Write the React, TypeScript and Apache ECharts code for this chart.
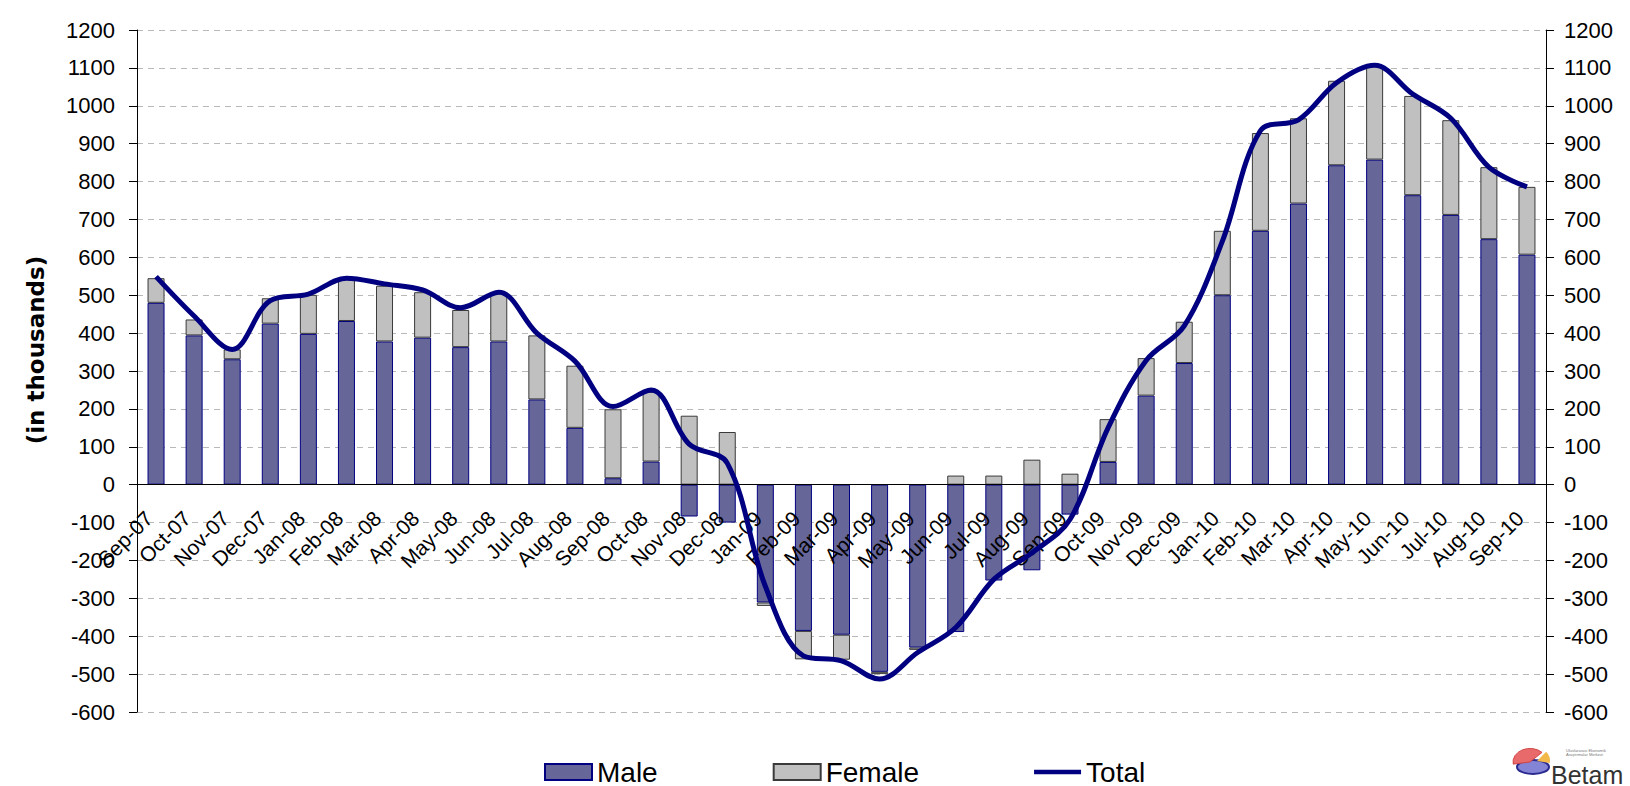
import React, { useEffect, useRef } from 'react';
import * as echarts from 'echarts';

const categories = [
  'Sep-07', 'Oct-07', 'Nov-07', 'Dec-07', 'Jan-08', 'Feb-08', 'Mar-08', 'Apr-08', 'May-08', 'Jun-08',
  'Jul-08', 'Aug-08', 'Sep-08', 'Oct-08', 'Nov-08', 'Dec-08', 'Jan-09', 'Feb-09', 'Mar-09', 'Apr-09',
  'May-09', 'Jun-09', 'Jul-09', 'Aug-09', 'Sep-09', 'Oct-09', 'Nov-09', 'Dec-09', 'Jan-10', 'Feb-10',
  'Mar-10', 'Apr-10', 'May-10', 'Jun-10', 'Jul-10', 'Aug-10', 'Sep-10',
];

const male = [
  480, 394, 331, 425, 398, 432, 378, 388, 363, 378,
  225, 150, 17, 61, -84, -100, -311, -386, -396, -494,
  -430, -389, -253, -226, -79, 60, 235, 321, 500, 670,
  742, 843, 858, 764, 712, 648, 607,
];

const female = [
  65, 42, 26, 67, 103, 111, 147, 120, 98, 130,
  169, 164, 182, 184, 182, 139, -9, -75, -66, -6,
  -6, 24, 24, 66, 29, 113, 99, 109, 170, 258,
  225, 223, 247, 262, 250, 190, 179,
];

const total = [
  549, 445, 357, 486, 503, 545, 530, 514, 467, 508,
  400, 326, 206, 250, 107, 57, -268, -452, -465, -513,
  -443, -377, -250, -180, -92, 150, 328, 419, 642, 934,
  963, 1061, 1107, 1031, 967, 838, 786,
];

const yMin = -600;
const yMax = 1200;
const yStep = 100;

const FONT = '"Liberation Sans", Arial, sans-serif';

const GRID_TOP = 30;
const GRID_BOTTOM = 74;
const HEIGHT = 786;

export default function App() {
  const ref = useRef<HTMLDivElement>(null);

  useEffect(() => {
    if (!ref.current) return;
    const chart = echarts.init(ref.current, null, { renderer: 'svg' });
    const plotH = HEIGHT - GRID_TOP - GRID_BOTTOM;
    // move the category axis (line + labels) up to the value-axis zero
    const zeroOffset = -((0 - yMin) / (yMax - yMin)) * plotH;
    const yAxisBase = {
      type: 'value',
      min: yMin,
      max: yMax,
      interval: yStep,
      axisLine: { show: true, onZero: false, lineStyle: { color: '#000', width: 1 } },
      axisTick: { show: true, inside: false, length: 8, lineStyle: { color: '#000', width: 1 } },
      axisLabel: {
        fontSize: 22,
        color: '#000',
        fontFamily: FONT,
        formatter: (v: number) => String(v),
      },
    };
    chart.setOption({
      animation: false,
      backgroundColor: '#fff',
      grid: { left: 137, right: 84, top: GRID_TOP, bottom: GRID_BOTTOM },
      xAxis: {
        type: 'category',
        data: categories,
        boundaryGap: true,
        offset: zeroOffset,
        z: 3,
        axisLine: { show: true, onZero: false, lineStyle: { color: '#000', width: 1 } },
        axisTick: { show: false },
        splitLine: { show: false },
        axisLabel: {
          interval: 0,
          rotate: 45,
          margin: 23,
          padding: [0, 10, 0, 0],
          fontSize: 21,
          color: '#000',
          fontFamily: FONT,
        },
      },
      yAxis: [
        {
          ...yAxisBase,
          position: 'left',
          axisLabel: { ...yAxisBase.axisLabel, margin: 22 },
          splitLine: { show: true, lineStyle: { color: '#b8b8b8', width: 1, type: [6, 5] } },
        },
        {
          ...yAxisBase,
          position: 'right',
          axisLabel: { ...yAxisBase.axisLabel, margin: 18 },
          splitLine: { show: false },
        },
      ],
      legend: {
        left: 539,
        top: 753,
        itemWidth: 47,
        itemHeight: 16,
        itemGap: 115,
        textStyle: { fontSize: 28, color: '#000', fontFamily: FONT },
        data: [
          { name: 'Male', icon: 'rect' },
          { name: 'Female', icon: 'rect' },
          { name: 'Total', icon: 'path://M0,0H50V5H0Z' },
        ],
      },
      graphic: [
        {
          type: 'text',
          x: 36,
          y: 350,
          rotation: Math.PI / 2,
          style: {
            text: '(in thousands)',
            font: 'bold 23px "DejaVu Sans", sans-serif',
            fill: '#000',
            align: 'center',
            verticalAlign: 'middle',
          },
        },
        {
          type: 'group',
          children: [
            {
              type: 'ellipse',
              shape: { cx: 1533, cy: 767, rx: 16, ry: 7 },
              style: { fill: '#8484d6', stroke: '#2a2a90', lineWidth: 2 },
            },
            {
              type: 'sector',
              shape: { cx: 1530, cy: 762, r0: 0, r: 17, startAngle: Math.PI * 0.95, endAngle: Math.PI * 1.75 },
              scaleY: 0.8,
              originX: 1530,
              originY: 762,
              style: { fill: '#e86a6a', stroke: '#d04040', lineWidth: 1 },
            },
            {
              type: 'sector',
              shape: { cx: 1537, cy: 761, r0: 0, r: 13, startAngle: Math.PI * 1.75, endAngle: Math.PI * 2.05 },
              style: { fill: '#f2b84a' },
            },
            {
              type: 'text',
              x: 1566,
              y: 748,
              style: { text: 'Uluslararası Ekonomik', font: '4px "Liberation Sans"', fill: '#777' },
            },
            {
              type: 'text',
              x: 1566,
              y: 752.5,
              style: { text: 'Araştırmalar Merkezi', font: '4px "Liberation Sans"', fill: '#777' },
            },
            {
              type: 'text',
              x: 1551,
              y: 787,
              style: {
                text: 'Betam',
                font: '25px "Liberation Sans", sans-serif',
                fill: '#333',
                verticalAlign: 'bottom',
              },
            },
          ],
        },
      ],
      series: [
        {
          name: 'Male',
          type: 'bar',
          stack: 'gender',
          data: male,
          barWidth: 17,
          itemStyle: { color: '#666699', borderColor: '#000080', borderWidth: 1 },
        },
        {
          name: 'Female',
          type: 'bar',
          stack: 'gender',
          data: female,
          barWidth: 17,
          itemStyle: { color: '#C0C0C0', borderColor: '#3a3a3a', borderWidth: 1 },
        },
        {
          name: 'Total',
          type: 'line',
          data: total,
          smooth: 0.35,
          symbol: 'none',
          showSymbol: false,
          z: 5,
          lineStyle: { color: '#000080', width: 5 },
          itemStyle: { color: '#000080' },
        },
      ],
    });
    return () => chart.dispose();
  }, []);

  return (
    <div
      ref={ref}
      style={{ position: 'fixed', left: 0, top: 0, width: 1630, height: 786, background: '#fff' }}
    />
  );
}
